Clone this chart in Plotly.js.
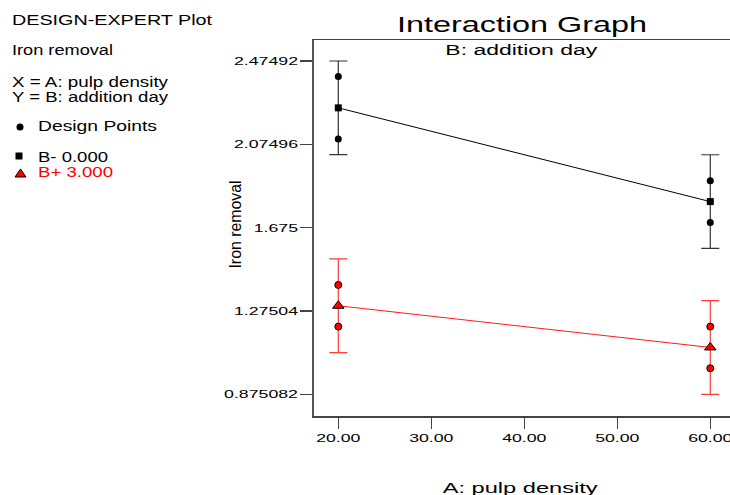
<!DOCTYPE html>
<html><head><meta charset="utf-8">
<script src="https://cdn.plot.ly/plotly-3.0.1.min.js"></script>
<style>html,body{margin:0;padding:0;background:#fff;overflow:hidden}#chart{width:730px;height:495px}</style>
</head><body><div id="chart"></div>
<script>
// ---- data ----
const pulpDensity = [20, 60];
const bMinusMean = [2.25, 1.80];
const bPlusMean = [1.30, 1.10];
const lsdHalf = [0.22492, 0.22492];
const designX = [20, 20, 60, 60];
const designBMinus = [2.40, 2.10, 1.90, 1.70];
const designBPlus = [1.40, 1.20, 1.20, 1.00];
const yTickVals = [0.875082, 1.27504, 1.675, 2.07496, 2.47492];
const yTickText = ['0.875082', '1.27504', '1.675', '2.07496', '2.47492'];
const xTickVals = [20, 30, 40, 50, 60];
const xTickText = ['20.00', '30.00', '40.00', '50.00', '60.00'];

// ---- layout helpers ----
const W = 730, H = 495, L = 314, R = 0, T = 40, B = 79;
const pw = W - L - R, ph = H - T - B;
const px = x => (x - L) / pw;
const py = y => (H - B - y) / ph;
const FONT = 'Liberation Sans, Arial, sans-serif';

const traces = [
  {x: pulpDensity, y: bMinusMean, type: 'scatter', mode: 'lines+markers', name: 'B- 0.000',
   line: {color: '#000', width: 1},
   marker: {symbol: 'square', size: 7, color: '#000'},
   error_y: {type: 'data', array: lsdHalf, visible: true, color: '#333', thickness: 1.2, width: 9}},
  {x: pulpDensity, y: bPlusMean, type: 'scatter', mode: 'lines+markers', name: 'B+ 3.000',
   line: {color: '#ff1a1a', width: 1},
   marker: {symbol: 'triangle-up', size: 10, color: '#ff0000', line: {color: '#000', width: 1}},
   error_y: {type: 'data', array: lsdHalf, visible: true, color: '#ff3b3b', thickness: 1.2, width: 9}},
  {x: designX, y: designBMinus, type: 'scatter', mode: 'markers', name: 'Design Points B-',
   marker: {symbol: 'circle', size: 7, color: '#000'}},
  {x: designX, y: designBPlus, type: 'scatter', mode: 'markers', name: 'Design Points B+',
   marker: {symbol: 'circle', size: 7, color: '#ff0000', line: {color: '#000', width: 1}}}
];

// target rendered widths (horizontal stretch of the original export)
function ann(text, x, y, size, target, opts) {
  return Object.assign({text: text, x: px(x), y: py(y), xref: 'paper', yref: 'paper',
    showarrow: false, font: {family: FONT, size: size, color: '#000'},
    xanchor: 'center', yanchor: 'middle', borderpad: 0, _target: target}, opts || {});
}
const left = {xanchor: 'left', align: 'left'};
const annSpecs = [
  ann('Interaction Graph', 522, 25, 22, 250),
  ann('B: addition day', 521, 50, 14, 152),
  ann('A: pulp density', 520, 487, 15, 155),
  ann('Iron removal', 235, 225, 16, 88, {textangle: -90}),
  ann('DESIGN-EXPERT Plot', 11, 20, 14, 200, left),
  ann('Iron removal', 11, 50, 14, 101, left),
  ann('X = A: pulp density', 11, 82, 14, 156, left),
  ann('Y = B: addition day', 11, 96.5, 14, 156, left),
  ann('Design Points', 37, 126.5, 14, 119, left),
  ann('B- 0.000', 37, 157, 14, 70, left),
  ann('B+ 3.000', 37, 172, 14, 75, Object.assign({}, left, {font: {family: FONT, size: 14, color: '#ff0000'}}))
];
const targets = annSpecs.map(a => a._target);
const annotations = annSpecs.map(a => { const c = Object.assign({}, a); delete c._target; return c; });

const shapes = [
  {type: 'circle', xref: 'paper', yref: 'paper', x0: px(16.5), x1: px(23.5), y0: py(130.5), y1: py(123.5),
   fillcolor: '#000', line: {width: 0}},
  {type: 'rect', xref: 'paper', yref: 'paper', x0: px(15.5), x1: px(22.5), y0: py(159.5), y1: py(152.5),
   fillcolor: '#000', line: {width: 0}},
  {type: 'path', xref: 'paper', yref: 'paper',
   path: 'M ' + px(15) + ' ' + py(177) + ' L ' + px(26) + ' ' + py(177) + ' L ' + px(20.5) + ' ' + py(169) + ' Z',
   fillcolor: '#ff0000', line: {color: '#000', width: 1}}
];

const layout = {
  width: W, height: H, margin: {l: L, r: R, t: T, b: B},
  paper_bgcolor: '#fff', plot_bgcolor: '#fff', showlegend: false,
  font: {family: FONT, size: 11, color: '#000'},
  xaxis: {range: [17.387, 62.12], tickvals: xTickVals, ticktext: xTickText,
    showgrid: false, zeroline: false, showline: true, mirror: true, linecolor: '#444', linewidth: 1.5,
    ticks: 'outside', ticklen: 11, tickwidth: 1.2, tickcolor: '#444',
    tickfont: {family: FONT, size: 11, color: '#000'}},
  yaxis: {range: [0.7709, 2.5757], tickvals: yTickVals, ticktext: yTickText,
    showgrid: false, zeroline: false, showline: true, linecolor: '#555', linewidth: 1.8,
    ticks: 'outside', ticklen: 12, tickwidth: 1.2, tickcolor: '#444',
    tickfont: {family: FONT, size: 11, color: '#000'}},
  annotations: annotations, shapes: shapes
};

Plotly.newPlot('chart', traces, layout, {staticPlot: true, displayModeBar: false}).then(gd => {
  gd.querySelectorAll('.xtick text, .ytick text').forEach(t => {
    const w = t.getComputedTextLength();
    t.setAttribute('textLength', (w * 1.61).toFixed(1));
    t.setAttribute('lengthAdjust', 'spacingAndGlyphs');
  });
  const texts = Array.from(gd.querySelectorAll('.annotation-text'));
  texts.forEach((t, i) => {
    // match by order and text to be safe
    let idx = i;
    if (!annotations[idx] || annotations[idx].text !== t.textContent) {
      idx = annotations.findIndex(a => a.text === t.textContent);
    }
    if (t.textContent === 'Iron removal') {
      const g = t.closest('.annotation-text-g');
      const tr = g ? (g.getAttribute('transform') || '') : '';
      idx = tr.indexOf('-90') >= 0 ? 3 : 5;
    }
    if (idx >= 0 && targets[idx]) {
      t.setAttribute('textLength', targets[idx]);
      t.setAttribute('lengthAdjust', 'spacingAndGlyphs');
    }
  });
});
</script>
</body></html>
